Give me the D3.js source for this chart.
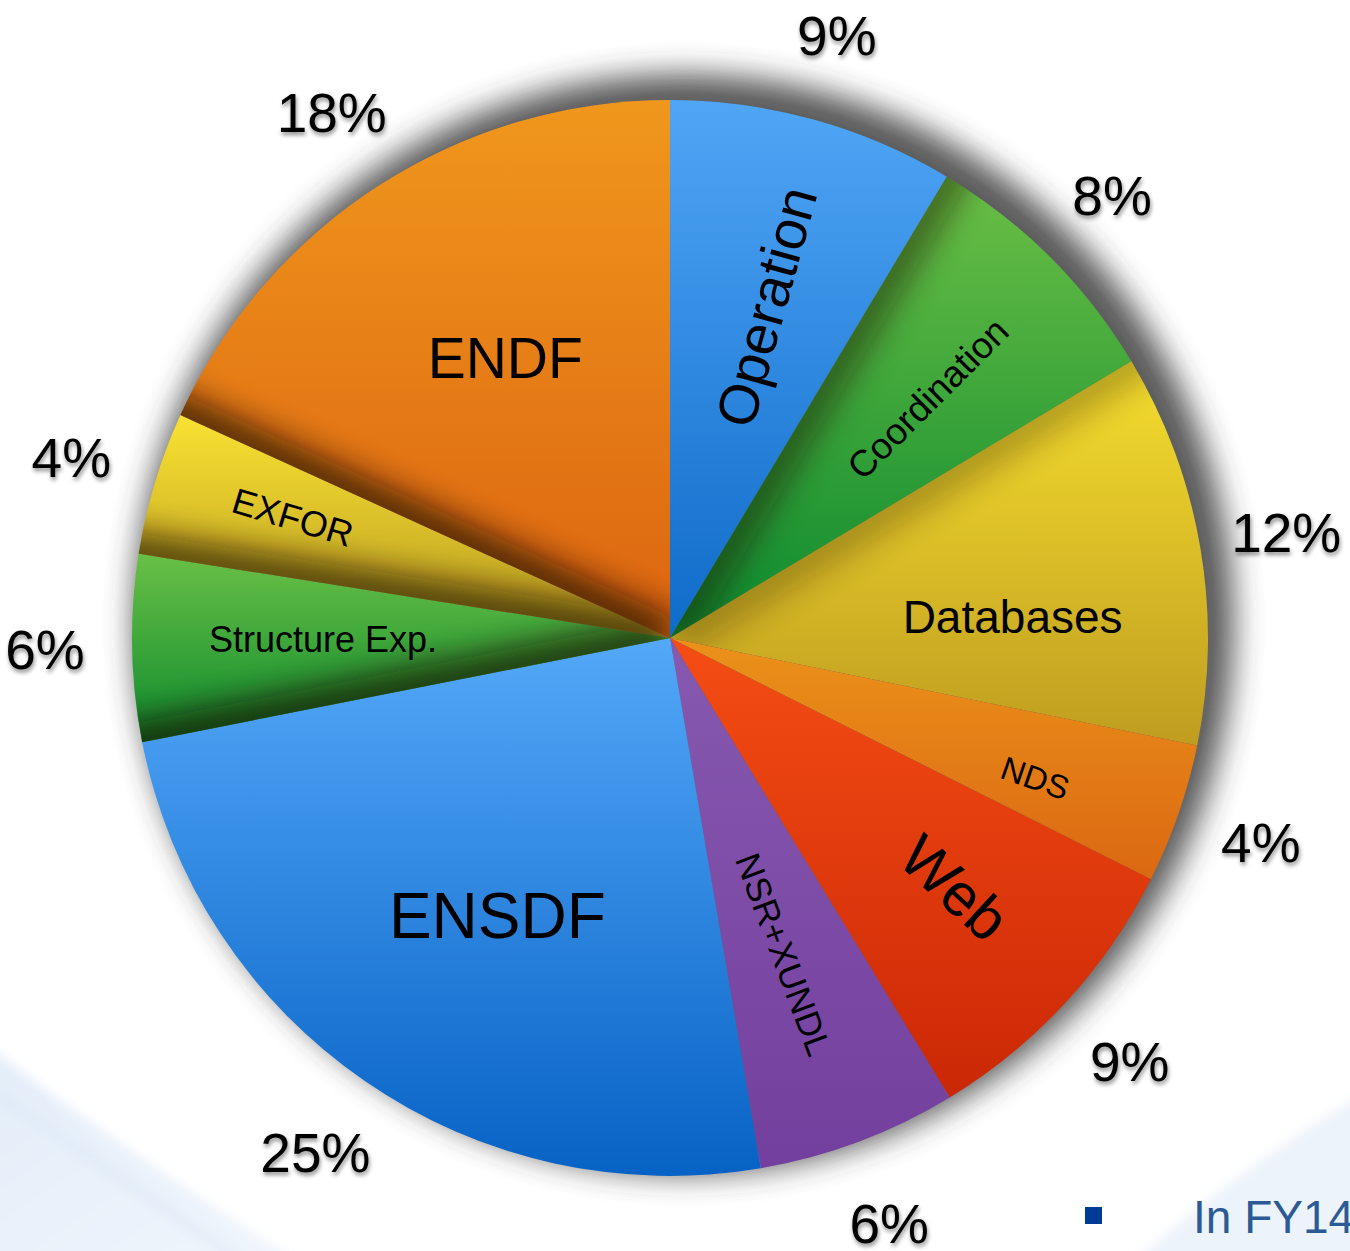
<!DOCTYPE html>
<html>
<head>
<meta charset="utf-8">
<script src="https://cdn.jsdelivr.net/npm/d3@7"></script>
<style>
  html, body { margin: 0; padding: 0; background: #ffffff; overflow: hidden; }
  svg { display: block; }
  text { font-family: "Liberation Sans", Arial, Helvetica, sans-serif; }
</style>
</head>
<body>
<svg id="chart" width="1350" height="1251"></svg>
<script>
// ---- data ----
const categories = ["Operation", "Coordination", "Databases", "NDS", "Web", "NSR+XUNDL", "ENSDF", "Structure Exp.", "EXFOR", "ENDF"];
const shares = [8.6, 7.8, 11.8, 4.2, 8.9, 6.0, 24.6, 5.6, 4.3, 18.2];
const pctLabels = ["9%", "8%", "12%", "4%", "9%", "6%", "25%", "6%", "4%", "18%"];

// ---- styles ----
const topColors = ["#50a6f6", "#6bbf45", "#f5dd2e", "#eb921a", "#f54d14", "#8759b0", "#53a8f8", "#69c046", "#f9e232", "#f0971d"];
const bottomColors = ["#0f6bc9", "#0c8a2f", "#bf9d20", "#db6812", "#ca2706", "#733f9e", "#0762c5", "#0d8a2d", "#b89a20", "#dc6410"];
const innerShadow = [0, 0.5, 0.3, 0, 0, 0, 0, 0.75, 0.7, 0.75];
const labelRadiusF = [0.641, 0.654, 0.638, 0.727, 0.704, 0.625, 0.608, 0.645, 0.736, 0.604];
const labelShiftDeg = [0.7, 2.1, 6.2, 1.9, -1.4, 0.8, -2.7, 0.9, 1.0, 2.3];
const labelRadial = [true, true, false, true, true, true, false, false, true, false];
const labelSize = [56, 37, 46, 33, 60, 35, 64, 36, 36, 57];

const W = 1350, H = 1251;
const cx = 670, cy = 638, R = 538;
const pctRadiusF = 1.162;

const svg = d3.select("#chart");
const defs = svg.append("defs");

// background swooshes
const bgGrad = defs.append("linearGradient").attr("id", "swoosh").attr("x1", 0).attr("y1", 0).attr("x2", 1).attr("y2", 1);
bgGrad.append("stop").attr("offset", "0%").attr("stop-color", "#e2edf8");
bgGrad.append("stop").attr("offset", "100%").attr("stop-color", "#f1f6fc");
defs.append("filter").attr("id", "softBlur").attr("x", "-20%").attr("y", "-20%").attr("width", "140%").attr("height", "140%")
  .append("feGaussianBlur").attr("stdDeviation", 6);
defs.append("filter").attr("id", "haloBlur").attr("x", "-20%").attr("y", "-20%").attr("width", "140%").attr("height", "140%")
  .append("feGaussianBlur").attr("stdDeviation", 15);
defs.append("filter").attr("id", "edgeBlur").attr("x", "-50%").attr("y", "-50%").attr("width", "200%").attr("height", "200%")
  .append("feGaussianBlur").attr("stdDeviation", 16);
const ds = defs.append("filter").attr("id", "textShadow").attr("x", "-20%").attr("y", "-20%").attr("width", "140%").attr("height", "160%");
ds.append("feDropShadow").attr("dx", 1).attr("dy", 3).attr("stdDeviation", 2).attr("flood-color", "#000").attr("flood-opacity", 0.45);

const bg = svg.append("g");
bg.append("path").attr("d", `M-20,1040 Q120,1150 320,1275 L-20,1275 Z`).attr("fill", "url(#swoosh)").attr("filter", "url(#softBlur)");
bg.append("path").attr("d", `M-20,1085 Q140,1190 260,1275`).attr("fill", "none").attr("stroke", "#dbe8f6").attr("stroke-width", 10).attr("opacity", 0.6).attr("filter", "url(#softBlur)");
bg.append("path").attr("d", `M1120,1275 Q1240,1165 1370,1090 L1370,1275 Z`).attr("fill", "#edf3fa").attr("filter", "url(#softBlur)");

// bullet text bottom right
bg.append("rect").attr("x", 1085).attr("y", 1207).attr("width", 17).attr("height", 17).attr("fill", "#003c96");
bg.append("text").attr("x", 1193).attr("y", 1233).attr("font-size", 46).attr("fill", "#2b5a94").text("In FY14");

// ---- pie ----
const pie = d3.pie().sort(null).value(d => d);
const arcs = pie(shares);
const arc = d3.arc().innerRadius(0).outerRadius(R);

const g = svg.append("g").attr("transform", `translate(${cx},${cy})`);

// halo shadow behind pie
g.append("circle").attr("cx", 14).attr("cy", -14).attr("r", R + 12)
  .attr("fill", "#333").attr("opacity", 0.8).attr("filter", "url(#haloBlur)");

// gradients & clips
arcs.forEach((a, i) => {
  const lg = defs.append("linearGradient").attr("id", "grad" + i).attr("x1", 0).attr("y1", 0).attr("x2", 0).attr("y2", 1);
  lg.append("stop").attr("offset", "0%").attr("stop-color", topColors[i]);
  lg.append("stop").attr("offset", "100%").attr("stop-color", bottomColors[i]);
  defs.append("clipPath").attr("id", "clip" + i).append("path").attr("d", arc(a));
});

g.selectAll("path.slice").data(arcs).join("path")
  .attr("class", "slice")
  .attr("d", arc)
  .attr("fill", (d, i) => `url(#grad${i})`);

// inner shadows along slice start edges
arcs.forEach((a, i) => {
  if (!innerShadow[i]) return;
  const cg = g.append("g").attr("clip-path", `url(#clip${i})`);
  const ang = a.startAngle;
  const ex = (R + 40) * Math.sin(ang), ey = -(R + 40) * Math.cos(ang);
  cg.append("line").attr("x1", 0).attr("y1", 0).attr("x2", ex).attr("y2", ey)
    .attr("stroke", "#1a0a00").attr("stroke-width", 40).attr("opacity", innerShadow[i])
    .attr("filter", "url(#edgeBlur)");
});

// inner labels
arcs.forEach((a, i) => {
  const mid = (a.startAngle + a.endAngle) / 2;
  const ang = mid + labelShiftDeg[i] * Math.PI / 180;
  const r = labelRadiusF[i] * R;
  const x = r * Math.sin(ang), y = -r * Math.cos(ang);
  let rot = 0;
  if (labelRadial[i]) {
    rot = mid * 180 / Math.PI - 90;
    if (rot > 90) rot -= 180;
  }
  g.append("text")
    .attr("transform", `translate(${x},${y}) rotate(${rot})`)
    .attr("text-anchor", "middle")
    .attr("dy", "0.35em")
    .attr("font-size", labelSize[i])
    .attr("fill", "#000")
    .text(categories[i]);
});

// outer percentage labels
arcs.forEach((a, i) => {
  const mid = (a.startAngle + a.endAngle) / 2;
  const r = pctRadiusF * R;
  g.append("text")
    .attr("x", r * Math.sin(mid))
    .attr("y", -r * Math.cos(mid))
    .attr("text-anchor", "middle")
    .attr("dy", "0.35em")
    .attr("font-size", 55)
    .attr("fill", "#000")
    .attr("filter", "url(#textShadow)")
    .text(pctLabels[i]);
});
</script>
</body>
</html>
